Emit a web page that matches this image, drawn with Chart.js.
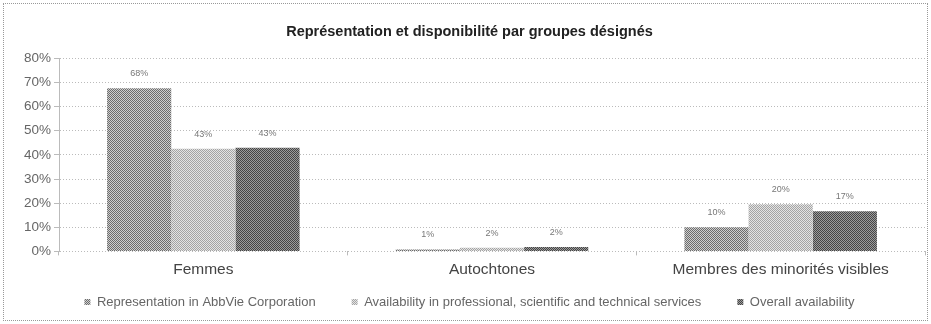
<!DOCTYPE html>
<html>
<head>
<meta charset="utf-8">
<script src="https://cdn.jsdelivr.net/npm/chart.js@4/dist/chart.umd.min.js"></script>
<style>
  html, body { margin: 0; padding: 0; background: #fff; }
  #wrap { position: absolute; left: 3px; top: 3px; width: 923px; height: 316px; border: 1px dotted #999; }
  canvas { display: block; }
</style>
</head>
<body>
<div id="wrap"><canvas id="chart" width="923" height="316"></canvas></div>
<script>
// Groups and series
const categories = ["Femmes", "Autochtones", "Membres des minorités visibles"];
const seriesNames = [
  "Representation in AbbVie Corporation",
  "Availability in professional, scientific and technical services",
  "Overall availability"
];
const representation = [67.6, 0.8, 10];
const availabilitySector = [42.5, 1.5, 19.5];
const overallAvailability = [43, 1.8, 16.6];
const yTicks = [0, 10, 20, 30, 40, 50, 60, 70, 80];

// small checkered fill, like the dithered bars of the original
function checker(dark, light) {
  const c = document.createElement("canvas");
  c.width = 2; c.height = 2;
  const g = c.getContext("2d");
  g.fillStyle = light; g.fillRect(0, 0, 2, 2);
  g.fillStyle = dark; g.fillRect(0, 0, 1, 1); g.fillRect(1, 1, 1, 1);
  return g.createPattern(c, "repeat");
}

const fills = [
  checker("#6c6c6c", "#cfcfcf"),
  checker("#a4a4a4", "#e4e4e4"),
  checker("#454545", "#9c9c9c")
];

// value labels above each bar
const valueLabels = {
  id: "valueLabels",
  afterDatasetsDraw(chart) {
    const ctx = chart.ctx;
    ctx.save();
    ctx.font = "9px 'Liberation Sans'";
    ctx.fillStyle = "#777";
    ctx.textAlign = "center";
    ctx.textBaseline = "bottom";
    chart.data.datasets.forEach((ds, i) => {
      chart.getDatasetMeta(i).data.forEach((bar, j) => {
        ctx.fillText(Math.round(ds.data[j]) + "%", bar.x, bar.y - 10);
      });
    });
    ctx.restore();
  }
};

// legend padding is both the gap between items and the vertical space;
// keep the wide gap but shrink the room the legend takes in the layout
const LEGEND_PAD = 36;
const LEGEND_H = 36;
const LEGEND_SHIFT = 24.5;
const tightLegend = {
  id: "tightLegend",
  beforeUpdate(chart) {
    const leg = chart.legend;
    if (!leg || leg._tight) return;
    leg._tight = true;
    const fit = leg.fit;
    leg.fit = function () {
      fit.call(this);
      this._natH = this.height;
      this.height = LEGEND_H;
    };
    const draw = leg.draw;
    leg.draw = function () {
      const top = this.top, bottom = this.bottom, height = this.height;
      this.top = top - LEGEND_SHIFT;
      this.height = this._natH;
      this.bottom = this.top + this._natH;
      draw.call(this);
      this.top = top; this.bottom = bottom; this.height = height;
    };
  }
};

const ctx = document.getElementById("chart").getContext("2d");
new Chart(ctx, {
  type: "bar",
  data: {
    labels: categories,
    datasets: [
      { label: seriesNames[0], data: representation, backgroundColor: fills[0] },
      { label: seriesNames[1], data: availabilitySector, backgroundColor: fills[1] },
      { label: seriesNames[2], data: overallAvailability, backgroundColor: fills[2] }
    ]
  },
  options: {
    responsive: false,
    animation: false,
    categoryPercentage: 0.667,
    barPercentage: 1.0,
    layout: { padding: { left: 10, right: 2, top: 0, bottom: 0 } },
    plugins: {
      title: {
        display: true,
        text: "Représentation et disponibilité par groupes désignés",
        color: "#222",
        font: { family: "'Liberation Sans'", size: 14.5, weight: "bold" },
        padding: { top: 19, bottom: 18 }
      },
      legend: {
        position: "bottom",
        labels: {
          color: "#666",
          font: { family: "'Liberation Sans'", size: 13 },
          boxWidth: 6,
          boxHeight: 6,
          padding: LEGEND_PAD
        }
      },
      tooltip: { enabled: false }
    },
    scales: {
      x: {
        grid: { display: true, drawOnChartArea: false, color: "#bbb", tickLength: 4 },
        border: { display: false },
        ticks: { color: "#444", font: { family: "'Liberation Sans'", size: 15.5 }, padding: 5 }
      },
      y: {
        min: 0,
        max: 80,
        afterBuildTicks(scale) { scale.ticks = yTicks.map(v => ({ value: v })); },
        grid: { color: "#bbb", drawTicks: true, tickLength: 5 },
        border: { display: true, color: "#bbb", dash: [1, 2] },
        ticks: {
          color: "#666",
          font: { family: "'Liberation Sans'", size: 13.5 },
          padding: 3,
          callback: (v) => v + "%"
        },
        afterFit(scale) { scale.width = 45; }
      }
    }
  },
  plugins: [valueLabels, tightLegend]
});
</script>
</body>
</html>
